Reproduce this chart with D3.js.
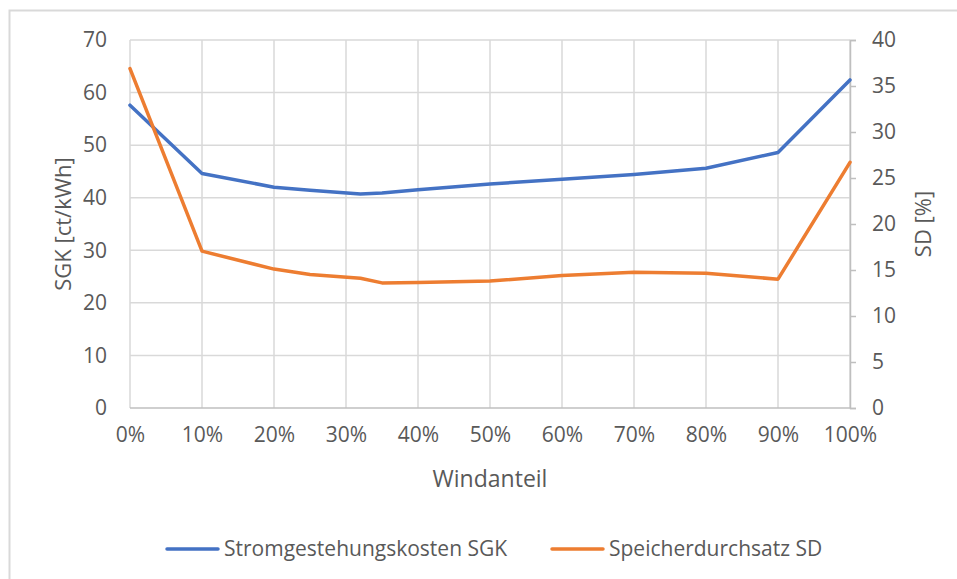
<!DOCTYPE html>
<meta charset="utf-8">
<script src="https://cdn.jsdelivr.net/npm/d3@7"></script>
<style>
	body{margin:0;background:#fff;font-family:"Open Sans",sans-serif;}
	text{fill:#595959;}
</style>
<div id="chart"></div>
<script>
// Windanteil in %
var windShare = [0,10,20,25,32,35,40,50,60,70,80,90,100]
// Stromgestehungskosten SGK [ct/kWh]
var sgk = [57.6,44.6,42.0,41.4,40.7,40.9,41.5,42.6,43.5,44.4,45.6,48.6,62.4]
// Speicherdurchsatz SD [%]
var sd = [36.9,17.05,15.1,14.5,14.1,13.6,13.65,13.8,14.4,14.75,14.65,14.0,26.7]

var xTicks = [0,10,20,30,40,50,60,70,80,90,100]
var leftTicks = [0,10,20,30,40,50,60,70]
var rightTicks = [0,5,10,15,20,25,30,35,40]
var seriesNames = ["Stromgestehungskosten SGK","Speicherdurchsatz SD"]
var colors = ["#4472C4","#ED7D31"]

var W = 957, H = 579
var x0 = 130, x1 = 850, yTop = 40, yBot = 408

var svg = d3.select("#chart").append("svg")
	.attr("width",W).attr("height",H)

// chart frame
svg.append("rect")
	.attr("x",9.5).attr("y",10.5)
	.attr("width",W).attr("height",H)
	.attr("fill","none").attr("stroke","#D9D9D9").attr("stroke-width",2)

var xScale = d3.scaleLinear().domain([0,100]).range([x0,x1])
var yLeft = d3.scaleLinear().domain([0,70]).range([yBot,yTop])
var yRight = d3.scaleLinear().domain([0,40]).range([yBot,yTop])

// gridlines
svg.append("g").selectAll("line").data(leftTicks.slice(1)).enter().append("line")
	.attr("x1",x0).attr("x2",x1)
	.attr("y1",function(d){return yLeft(d)}).attr("y2",function(d){return yLeft(d)})
	.attr("stroke","#D9D9D9").attr("stroke-width",1.5)
svg.append("g").selectAll("line").data(xTicks).enter().append("line")
	.attr("x1",function(d){return xScale(d)}).attr("x2",function(d){return xScale(d)})
	.attr("y1",yTop).attr("y2",yBot)
	.attr("stroke","#D9D9D9").attr("stroke-width",1.5)

// bottom axis line
svg.append("line")
	.attr("x1",x0).attr("x2",x1).attr("y1",yBot).attr("y2",yBot)
	.attr("stroke","#BFBFBF").attr("stroke-width",1.5)

// left axis
var leftAxis = d3.axisLeft(yLeft).tickValues(leftTicks).tickSize(0).tickPadding(23)
var gl = svg.append("g").attr("transform","translate("+x0+",0)").call(leftAxis)
gl.select(".domain").remove()

// right axis
var rightAxis = d3.axisRight(yRight).tickValues(rightTicks).tickSize(6).tickPadding(16)
var gr = svg.append("g").attr("transform","translate("+x1+",0)").call(rightAxis)
gr.select(".domain").attr("stroke","#BFBFBF").attr("stroke-width",1.5)
gr.selectAll(".tick line").attr("stroke","#BFBFBF").attr("stroke-width",1.5)

// bottom axis labels
var bottomAxis = d3.axisBottom(xScale).tickValues(xTicks).tickSize(0).tickPadding(19)
	.tickFormat(function(d){return d+"%"})
var gb = svg.append("g").attr("transform","translate(0,"+yBot+")").call(bottomAxis)
gb.select(".domain").remove()

svg.selectAll("g").attr("font-family",null).attr("font-size",null)
svg.selectAll(".tick text").style("font-family","'Open Sans',sans-serif").style("font-size","21px").attr("fill","#595959")

// axis titles
svg.append("text").attr("x",(x0+x1)/2).attr("y",487).attr("text-anchor","middle")
	.style("font-size","23px").text("Windanteil")
svg.append("text").attr("transform","translate(71,"+((yTop+yBot)/2)+") rotate(-90)")
	.attr("text-anchor","middle").style("font-size","22px").text("SGK [ct/kWh]")
svg.append("text").attr("transform","translate(931,"+((yTop+yBot)/2)+") rotate(-90)")
	.attr("text-anchor","middle").style("font-size","22px").text("SD [%]")

// lines
var lineLeft = d3.line().x(function(d,i){return xScale(windShare[i])}).y(function(d){return yLeft(d)})
var lineRight = d3.line().x(function(d,i){return xScale(windShare[i])}).y(function(d){return yRight(d)})

svg.append("path").datum(sgk)
	.attr("fill","none").attr("stroke",colors[0]).attr("stroke-width",3.5)
	.attr("stroke-linejoin","round").attr("stroke-linecap","round")
	.attr("d",lineLeft)
svg.append("path").datum(sd)
	.attr("fill","none").attr("stroke",colors[1]).attr("stroke-width",3.5)
	.attr("stroke-linejoin","round").attr("stroke-linecap","round")
	.attr("d",lineRight)

// legend
var legendX = [167,552]
var legend = svg.append("g").selectAll("g").data(seriesNames).enter().append("g")
	.attr("transform",function(d,i){return "translate("+legendX[i]+",549)"})
legend.append("line").attr("x1",0).attr("x2",51).attr("y1",0).attr("y2",0)
	.attr("stroke",function(d,i){return colors[i]}).attr("stroke-width",3.5).attr("stroke-linecap","round")
legend.append("text").attr("x",57).attr("y",7).style("font-size","21px").text(function(d){return d})
</script>
